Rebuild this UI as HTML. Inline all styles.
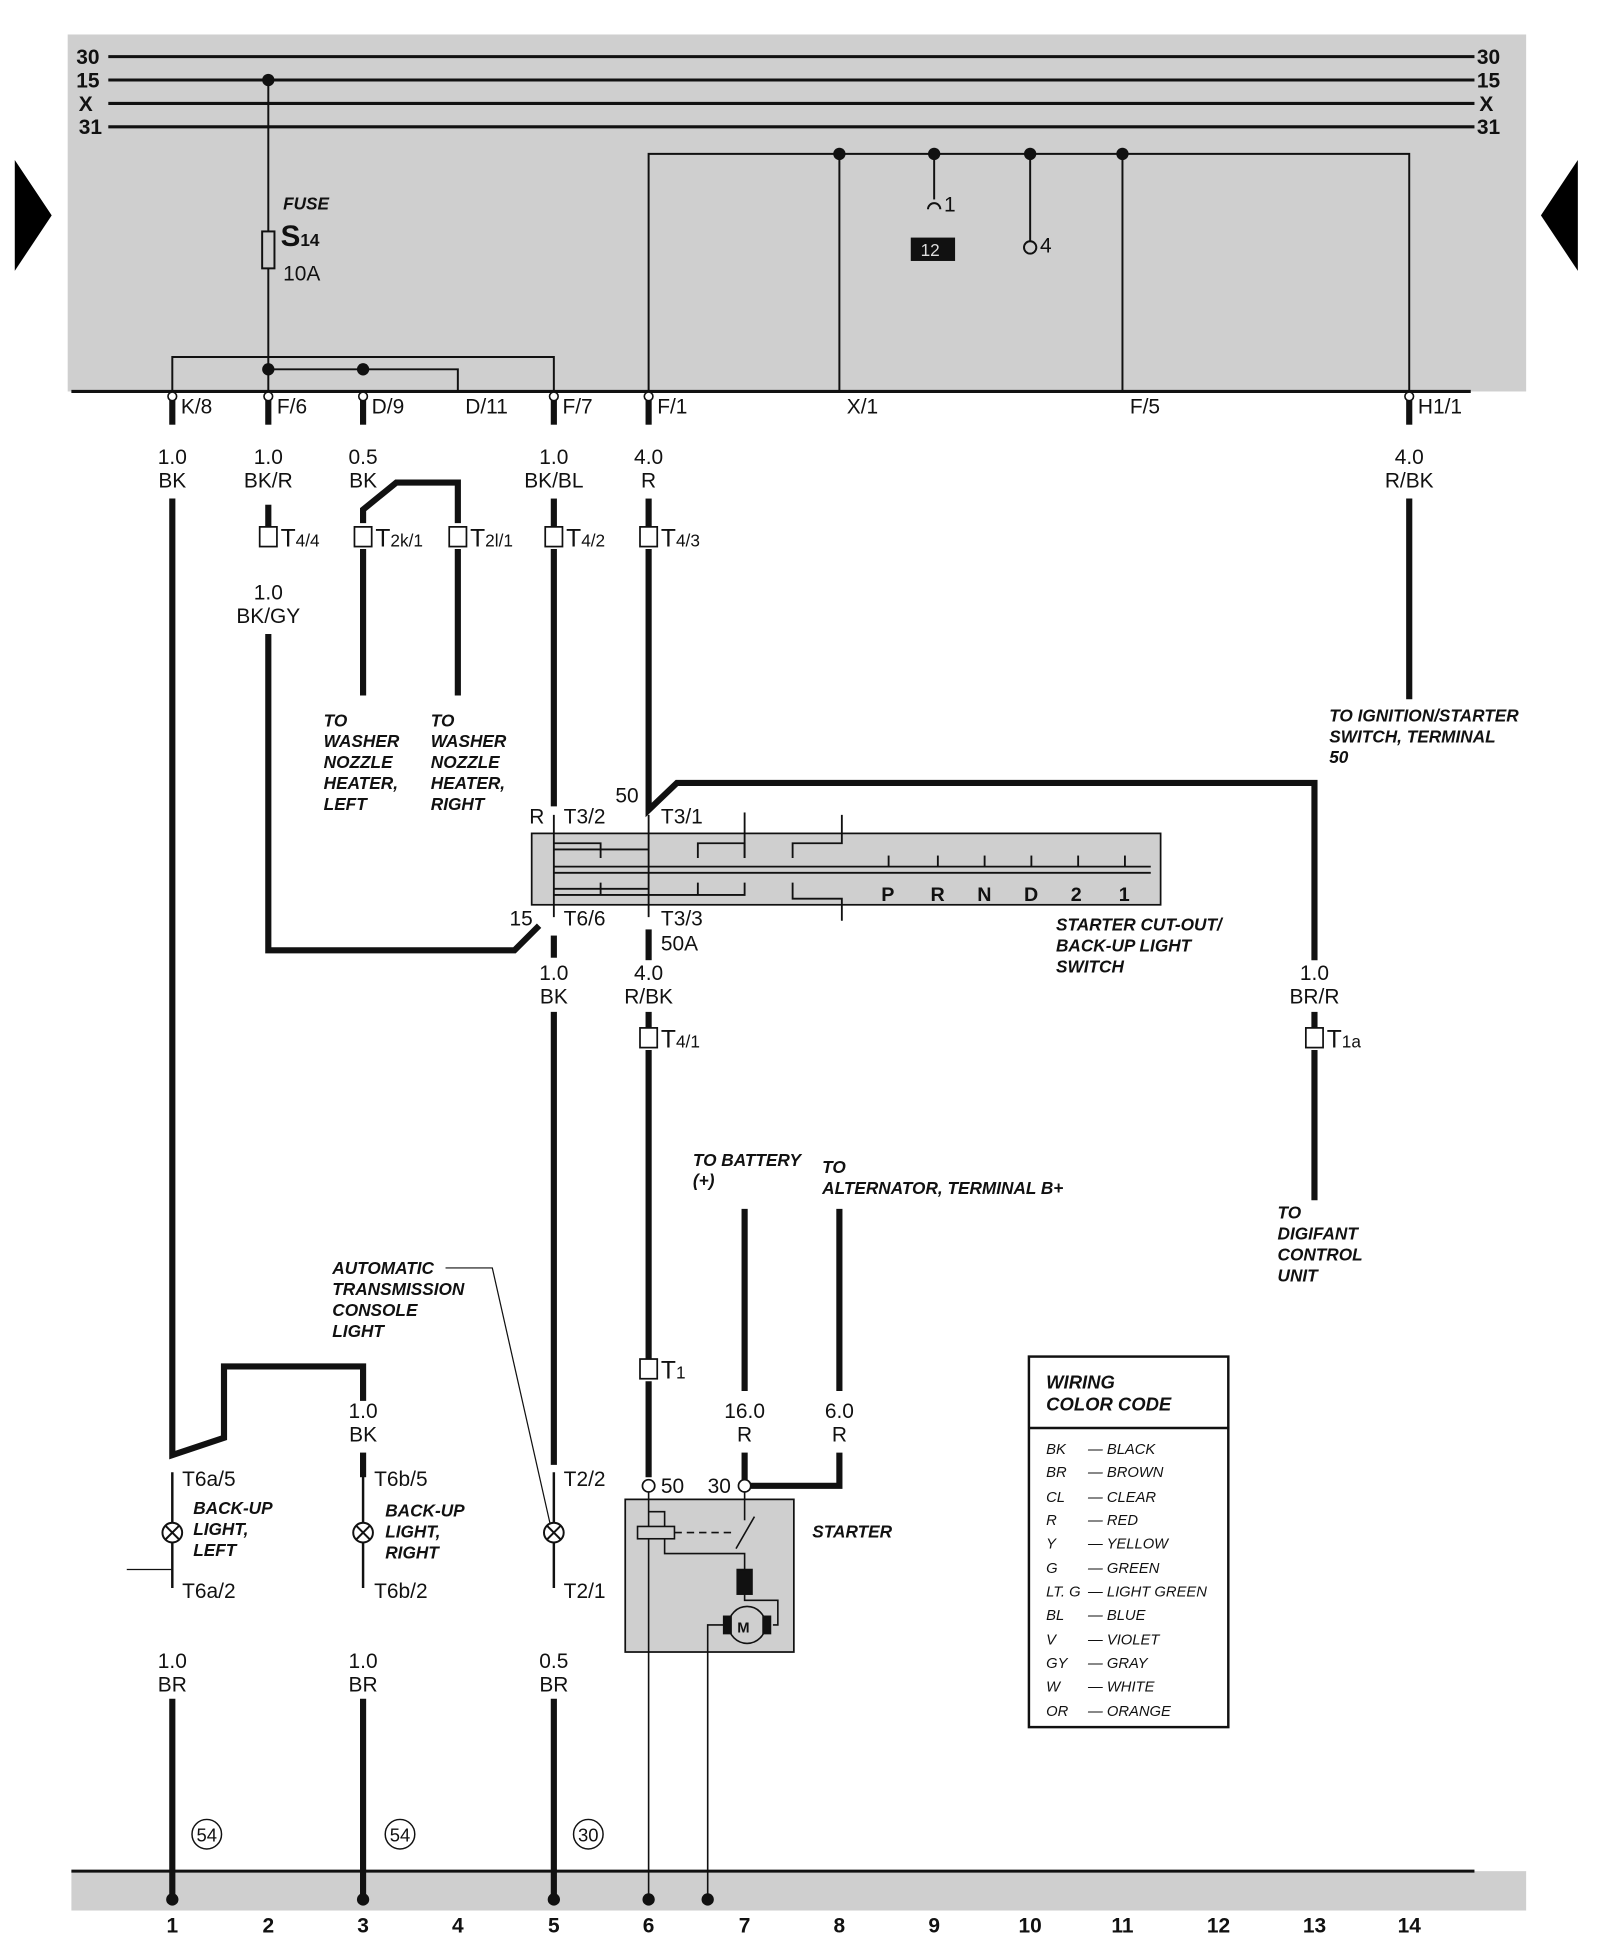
<!DOCTYPE html>
<html><head><meta charset="utf-8"><style>
html,body{margin:0;padding:0;background:#fff}
svg{display:block}
text{font-family:"Liberation Sans",sans-serif;fill:#111}
.l{font-size:17px}
.i{font-size:14px;font-weight:bold;font-style:italic}
.s{font-size:12px;font-style:italic}
</style></head><body>
<svg width="1600" height="1945" viewBox="0 0 1300 1580" preserveAspectRatio="none" xmlns="http://www.w3.org/2000/svg">
<rect x="55" y="28" width="1185" height="290" fill="#cfcfcf"/>
<rect x="58" y="1520" width="1182" height="32" fill="#cfcfcf"/>
<polygon points="12,130 42,175 12,220" fill="#000"/>
<polygon points="1282,130 1252,175 1282,220" fill="#000"/>
<g stroke="#111" stroke-width="2.5" fill="none">
<line x1="88" y1="46" x2="1198" y2="46"/><line x1="88" y1="65" x2="1198" y2="65"/>
<line x1="88" y1="84" x2="1198" y2="84"/><line x1="88" y1="103" x2="1198" y2="103"/>
<line x1="58" y1="318" x2="1195" y2="318"/>
<line x1="58" y1="1520" x2="1198" y2="1520"/>
</g>
<g class="l" font-weight="bold"><text x="62" y="52">30</text><text x="62" y="71">15</text><text x="64" y="90">X</text><text x="64" y="109">31</text>
<text x="1200" y="52">30</text><text x="1200" y="71">15</text><text x="1202" y="90">X</text><text x="1200" y="109">31</text></g>
<g stroke="#111" stroke-width="1.6" fill="none">
<line x1="218" y1="65" x2="218" y2="318"/>
<rect x="213" y="188" width="10" height="30" fill="#cfcfcf"/>
<polyline points="140,318 140,290 450,290 450,318"/>
<polyline points="218,300 372,300 372,318"/>
<polyline points="527,318 527,125 1145,125 1145,318"/>
<line x1="682" y1="125" x2="682" y2="318"/><line x1="759" y1="125" x2="759" y2="162"/>
<path d="M754,170 a5,5 0 0 1 10,0"/>
<line x1="837" y1="125" x2="837" y2="196"/><circle cx="837" cy="201" r="5"/>
<line x1="912" y1="125" x2="912" y2="318"/>
</g>
<g fill="#111"><circle cx="218" cy="65" r="5"/><circle cx="682" cy="125" r="5"/><circle cx="759" cy="125" r="5"/><circle cx="837" cy="125" r="5"/><circle cx="912" cy="125" r="5"/><circle cx="218" cy="300" r="5"/><circle cx="295" cy="300" r="5"/></g>
<rect x="740" y="193" width="36" height="19" fill="#111"/><text x="748" y="208" style="font-size:14px;fill:#ddd">12</text>
<text x="767" y="172" class="l">1</text><text x="845" y="205" class="l">4</text>
<text x="230" y="170" class="i">FUSE</text><text x="228" y="200" style="font-size:24px;font-weight:bold">S<tspan font-size="14">14</tspan></text><text x="230" y="228" class="l">10A</text>
<g class="l"><text x="147" y="336">K/8</text><text x="225" y="336">F/6</text><text x="302" y="336">D/9</text><text x="378" y="336">D/11</text><text x="457" y="336">F/7</text><text x="534" y="336">F/1</text><text x="688" y="336">X/1</text><text x="918" y="336">F/5</text><text x="1152" y="336">H1/1</text></g>
<g stroke="#111" stroke-width="5" fill="none" stroke-linejoin="miter">
<line x1="140" y1="322" x2="140" y2="345"/><line x1="218" y1="322" x2="218" y2="345"/><line x1="295" y1="322" x2="295" y2="345"/><line x1="450" y1="322" x2="450" y2="345"/><line x1="527" y1="322" x2="527" y2="345"/><line x1="1145" y1="322" x2="1145" y2="345"/>
<polyline points="140,405 140,1182 182,1168 182,1110 295,1110 295,1138"/>
<line x1="218" y1="410" x2="218" y2="428"/>
<polyline points="218,515 218,772 418,772 438,752"/>
<polyline points="295,425 295,414 322,392 372,392 372,425"/>
<line x1="295" y1="446" x2="295" y2="565"/><line x1="372" y1="446" x2="372" y2="565"/>
<line x1="450" y1="405" x2="450" y2="428"/><line x1="450" y1="446" x2="450" y2="655"/>
<line x1="527" y1="405" x2="527" y2="428"/>
<polyline points="527,446 527,658 550,636 1068,636 1068,780"/>
<line x1="527" y1="755" x2="527" y2="780"/>
<line x1="450" y1="760" x2="450" y2="778"/>
<line x1="450" y1="822" x2="450" y2="1190"/>
<line x1="527" y1="822" x2="527" y2="835"/><line x1="527" y1="853" x2="527" y2="1104"/><line x1="527" y1="1122" x2="527" y2="1200"/>
<line x1="1068" y1="822" x2="1068" y2="835"/><line x1="1068" y1="853" x2="1068" y2="975"/>
<line x1="1145" y1="405" x2="1145" y2="568"/>
<line x1="605" y1="982" x2="605" y2="1130"/><line x1="682" y1="982" x2="682" y2="1130"/>
<polyline points="682,1180 682,1207 610,1207"/>
<line x1="605" y1="1180" x2="605" y2="1202"/>
<line x1="140" y1="1380" x2="140" y2="1543"/><line x1="295" y1="1380" x2="295" y2="1543"/><line x1="450" y1="1380" x2="450" y2="1543"/>
<line x1="295" y1="1180" x2="295" y2="1200"/>
</g>
<g fill="#fff" stroke="#111" stroke-width="1.3">
<circle cx="140" cy="322" r="3.5"/><circle cx="218" cy="322" r="3.5"/><circle cx="295" cy="322" r="3.5"/><circle cx="450" cy="322" r="3.5"/><circle cx="527" cy="322" r="3.5"/><circle cx="1145" cy="322" r="3.5"/>
</g>
<g class="l" text-anchor="middle">
<text x="140" y="377">1.0</text><text x="140" y="396">BK</text>
<text x="218" y="377">1.0</text><text x="218" y="396">BK/R</text>
<text x="295" y="377">0.5</text><text x="295" y="396">BK</text>
<text x="450" y="377">1.0</text><text x="450" y="396">BK/BL</text>
<text x="527" y="377">4.0</text><text x="527" y="396">R</text>
<text x="1145" y="377">4.0</text><text x="1145" y="396">R/BK</text>
<text x="218" y="487">1.0</text><text x="218" y="506">BK/GY</text>
<text x="450" y="796">1.0</text><text x="450" y="815">BK</text>
<text x="527" y="796">4.0</text><text x="527" y="815">R/BK</text>
<text x="1068" y="796">1.0</text><text x="1068" y="815">BR/R</text>
<text x="295" y="1152">1.0</text><text x="295" y="1171">BK</text>
<text x="605" y="1152">16.0</text><text x="605" y="1171">R</text>
<text x="682" y="1152">6.0</text><text x="682" y="1171">R</text>
<text x="140" y="1355">1.0</text><text x="140" y="1374">BR</text>
<text x="295" y="1355">1.0</text><text x="295" y="1374">BR</text>
<text x="450" y="1355">0.5</text><text x="450" y="1374">BR</text>
</g>
<g stroke="#111" stroke-width="1.4" fill="#fff">
<rect x="211" y="428" width="14" height="16"/><rect x="288" y="428" width="14" height="16"/><rect x="365" y="428" width="14" height="16"/><rect x="443" y="428" width="14" height="16"/><rect x="520" y="428" width="14" height="16"/>
<rect x="520" y="835" width="14" height="16"/><rect x="1061" y="835" width="14" height="16"/><rect x="520" y="1104" width="14" height="16"/>
</g>
<g class="l" style="font-size:20px">
<text x="228" y="444">T<tspan font-size="14">4/4</tspan></text><text x="305" y="444">T<tspan font-size="14">2k/1</tspan></text><text x="382" y="444">T<tspan font-size="14">2l/1</tspan></text><text x="460" y="444">T<tspan font-size="14">4/2</tspan></text><text x="537" y="444">T<tspan font-size="14">4/3</tspan></text>
<text x="537" y="851">T<tspan font-size="14">4/1</tspan></text><text x="1078" y="851">T<tspan font-size="14">1a</tspan></text><text x="537" y="1120">T<tspan font-size="14">1</tspan></text>
</g>
<g class="i">
<text x="263" y="590">TO</text><text x="263" y="607">WASHER</text><text x="263" y="624">NOZZLE</text><text x="263" y="641">HEATER,</text><text x="263" y="658">LEFT</text>
<text x="350" y="590">TO</text><text x="350" y="607">WASHER</text><text x="350" y="624">NOZZLE</text><text x="350" y="641">HEATER,</text><text x="350" y="658">RIGHT</text>
<text x="1080" y="586">TO IGNITION/STARTER</text><text x="1080" y="603">SWITCH, TERMINAL</text><text x="1080" y="620">50</text>
<text x="858" y="756">STARTER CUT-OUT/</text><text x="858" y="773">BACK-UP LIGHT</text><text x="858" y="790">SWITCH</text>
<text x="1038" y="990">TO</text><text x="1038" y="1007">DIGIFANT</text><text x="1038" y="1024">CONTROL</text><text x="1038" y="1041">UNIT</text>
<text x="563" y="947">TO BATTERY</text><text x="563" y="964">(+)</text>
<text x="668" y="953">TO</text><text x="668" y="970">ALTERNATOR, TERMINAL B+</text>
<text x="270" y="1035">AUTOMATIC</text><text x="270" y="1052">TRANSMISSION</text><text x="270" y="1069">CONSOLE</text><text x="270" y="1086">LIGHT</text>
<text x="157" y="1230">BACK-UP</text><text x="157" y="1247">LIGHT,</text><text x="157" y="1264">LEFT</text>
<text x="313" y="1232">BACK-UP</text><text x="313" y="1249">LIGHT,</text><text x="313" y="1266">RIGHT</text>
<text x="660" y="1249">STARTER</text>
</g>
<polyline points="362,1030 400,1030 447,1238" fill="none" stroke="#111" stroke-width="1"/>
<rect x="432" y="677" width="511" height="58" fill="#cfcfcf" stroke="#111" stroke-width="1.4"/>
<g stroke="#111" stroke-width="1.5" fill="none">
<line x1="450" y1="662" x2="450" y2="745"/><line x1="527" y1="662" x2="527" y2="745"/>
<line x1="450" y1="704" x2="935" y2="704"/><line x1="450" y1="709" x2="935" y2="709"/>
<polyline points="450,685 488,685 488,697"/><polyline points="450,690 527,690"/>
<polyline points="567,697 567,685 605,685 605,697"/><line x1="605" y1="660" x2="605" y2="697"/>
<polyline points="644,697 644,685 684,685 684,662"/>
<polyline points="450,722 527,722"/><polyline points="450,727 605,727 605,717"/><line x1="488" y1="717" x2="488" y2="727"/><line x1="567" y1="717" x2="567" y2="727"/>
<polyline points="644,717 644,730 684,730 684,748"/>
<line x1="722" y1="695" x2="722" y2="704"/><line x1="762" y1="695" x2="762" y2="704"/><line x1="800" y1="695" x2="800" y2="704"/><line x1="838" y1="695" x2="838" y2="704"/><line x1="876" y1="695" x2="876" y2="704"/><line x1="914" y1="695" x2="914" y2="704"/>
</g>
<g class="l" font-weight="bold" style="font-size:16px"><text x="716" y="732">P</text><text x="756" y="732">R</text><text x="794" y="732">N</text><text x="832" y="732">D</text><text x="870" y="732">2</text><text x="909" y="732">1</text></g>
<g class="l"><text x="430" y="669">R</text><text x="458" y="669">T3/2</text><text x="500" y="652">50</text><text x="537" y="669">T3/1</text>
<text x="414" y="752">15</text><text x="458" y="752">T6/6</text><text x="537" y="752">T3/3</text><text x="537" y="772">50A</text>
<text x="148" y="1207">T6a/5</text><text x="304" y="1207">T6b/5</text><text x="458" y="1207">T2/2</text>
<text x="148" y="1298">T6a/2</text><text x="304" y="1298">T6b/2</text><text x="458" y="1298">T2/1</text>
<text x="537" y="1213">50</text><text x="575" y="1213">30</text></g>
<g stroke="#111" stroke-width="1.6" fill="#fff">
<line x1="140" y1="1196" x2="140" y2="1290" stroke-width="2"/><line x1="295" y1="1196" x2="295" y2="1290" stroke-width="2"/><line x1="450" y1="1196" x2="450" y2="1290" stroke-width="2"/>
<circle cx="140" cy="1245" r="8"/><circle cx="295" cy="1245" r="8"/><circle cx="450" cy="1245" r="8"/>
<path d="M134,1239 l12,12 M146,1239 l-12,12 M289,1239 l12,12 M301,1239 l-12,12 M444,1239 l12,12 M456,1239 l-12,12"/>
<line x1="103" y1="1275" x2="140" y2="1275" stroke-width="1"/>
</g>
<g fill="#111"><circle cx="140" cy="1543" r="5"/><circle cx="295" cy="1543" r="5"/><circle cx="450" cy="1543" r="5"/><circle cx="527" cy="1543" r="5"/><circle cx="575" cy="1543" r="5"/></g>
<rect x="508" y="1218" width="137" height="124" fill="#cfcfcf" stroke="#111" stroke-width="1.4"/>
<g stroke="#111" stroke-width="1.3" fill="none">
<line x1="527" y1="1212" x2="527" y2="1543"/><polyline points="575,1543 575,1320 590,1320"/>
<polyline points="527,1228 540,1228 540,1262 605,1262 605,1275"/>
<rect x="518" y="1240" width="30" height="10" fill="#cfcfcf"/>
<line x1="548" y1="1245" x2="598" y2="1245" stroke-dasharray="6,4"/>
<polyline points="605,1212 605,1235"/><line x1="598" y1="1258" x2="613" y2="1232"/>
<rect x="599" y="1275" width="12" height="20" fill="#111"/>
<polyline points="605,1295 605,1300 632,1300 632,1320 628,1320"/>
<circle cx="607" cy="1320" r="15" fill="#cfcfcf"/>
<rect x="588" y="1313" width="6" height="14" fill="#111"/><rect x="620" y="1313" width="6" height="14" fill="#111"/>
</g>
<text x="599" y="1326" style="font-size:12px;font-weight:bold">M</text>
<circle cx="527" cy="1207" r="5" fill="#fff" stroke="#111" stroke-width="1.4"/><circle cx="605" cy="1207" r="5" fill="#fff" stroke="#111" stroke-width="1.4"/>
<g fill="#fff" stroke="#111" stroke-width="1.2"><circle cx="168" cy="1490" r="12"/><circle cx="325" cy="1490" r="12"/><circle cx="478" cy="1490" r="12"/></g>
<g class="l" text-anchor="middle" style="font-size:15px"><text x="168" y="1496">54</text><text x="325" y="1496">54</text><text x="478" y="1496">30</text></g>
<rect x="836" y="1102" width="162" height="301" fill="#fff" stroke="#111" stroke-width="2"/>
<line x1="836" y1="1160" x2="998" y2="1160" stroke="#111" stroke-width="2"/>
<text x="850" y="1128" class="i" style="font-size:15px">WIRING</text><text x="850" y="1146" class="i" style="font-size:15px">COLOR CODE</text>
<g class="s">
<text x="850" y="1181">BK</text><text x="850" y="1200">BR</text><text x="850" y="1220">CL</text><text x="850" y="1239">R</text><text x="850" y="1258">Y</text><text x="850" y="1278">G</text><text x="850" y="1297">LT. G</text><text x="850" y="1316">BL</text><text x="850" y="1336">V</text><text x="850" y="1355">GY</text><text x="850" y="1374">W</text><text x="850" y="1394">OR</text>
<text x="884" y="1181">— BLACK</text><text x="884" y="1200">— BROWN</text><text x="884" y="1220">— CLEAR</text><text x="884" y="1239">— RED</text><text x="884" y="1258">— YELLOW</text><text x="884" y="1278">— GREEN</text><text x="884" y="1297">— LIGHT GREEN</text><text x="884" y="1316">— BLUE</text><text x="884" y="1336">— VIOLET</text><text x="884" y="1355">— GRAY</text><text x="884" y="1374">— WHITE</text><text x="884" y="1394">— ORANGE</text>
</g>
<g class="l" font-weight="bold" text-anchor="middle">
<text x="140" y="1570">1</text><text x="218" y="1570">2</text><text x="295" y="1570">3</text><text x="372" y="1570">4</text><text x="450" y="1570">5</text><text x="527" y="1570">6</text><text x="605" y="1570">7</text><text x="682" y="1570">8</text><text x="759" y="1570">9</text><text x="837" y="1570">10</text><text x="912" y="1570">11</text><text x="990" y="1570">12</text><text x="1068" y="1570">13</text><text x="1145" y="1570">14</text>
</g>
</svg>
</body></html>
